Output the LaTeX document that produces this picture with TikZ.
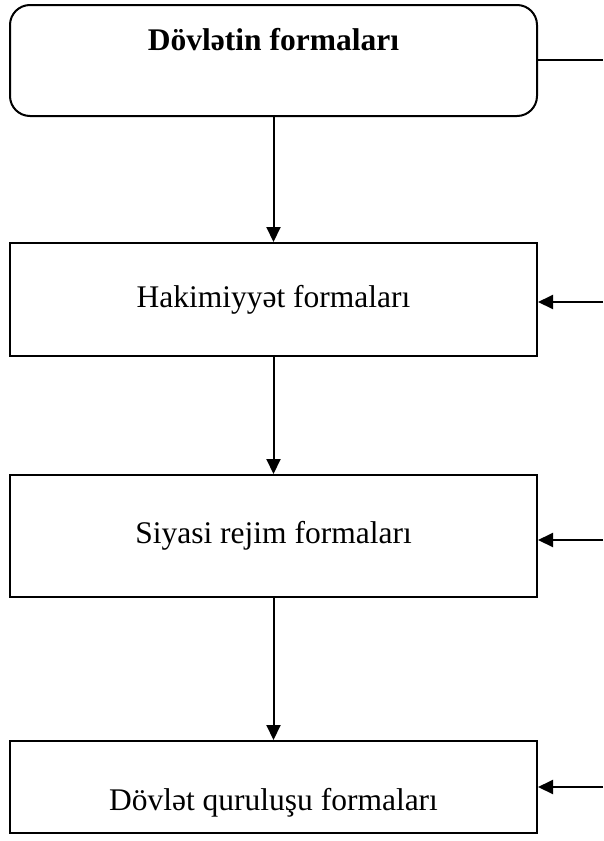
\documentclass[tikz,border=0pt]{standalone}
\usepackage{fontspec}
\setmainfont{Liberation Serif}
\usetikzlibrary{arrows.meta,positioning}
\tikzset{
  formbox/.style={draw, line width=2pt, minimum width=527pt, inner sep=0pt,
    font=\fontsize{31.5}{36}\selectfont, text height=22pt, text depth=7pt},
  flow/.style={line width=2pt, -{Triangle[length=15pt,width=14pt]}}
}
\begin{document}
\begin{tikzpicture}[x=1pt,y=-1pt]
        \useasboundingbox (0,0) rectangle (603,841);
        \node[formbox, rounded corners=20pt, minimum height=111pt, text depth=43pt,
              font=\fontsize{31.5}{36}\selectfont\bfseries] (dovlet) at (273.5,60.5) {Dövlətin formaları};
        \node[formbox, minimum height=113pt] (hakim) at (273.5,299.5) {Hakimiyyət formaları};
        \node[formbox, minimum height=122pt] (rejim) at (273.5,536) {Siyasi rejim formaları};
        \node[formbox, minimum height=92pt, text height=54pt] (qurulus) at (273.5,787) {Dövlət quruluşu formaları};
        % down arrows
        \draw[flow] (dovlet.south) -- (hakim.north);
        \draw[flow] (hakim.south) -- (rejim.north);
        \draw[flow] (rejim.south) -- (qurulus.north);
        % right side
        \coordinate (out) at (603,60);
        \coordinate (in1) at (603,302);
        \coordinate (in2) at (603,540);
        \coordinate (in3) at (603,787);
        \draw[line width=2pt] (dovlet.east |- out) -- (out);
        \draw[flow] (in1) -- (in1 -| hakim.east);
        \draw[flow] (in2) -- (in2 -| rejim.east);
        \draw[flow] (in3) -- (in3 -| qurulus.east);
\end{tikzpicture}
\end{document}
